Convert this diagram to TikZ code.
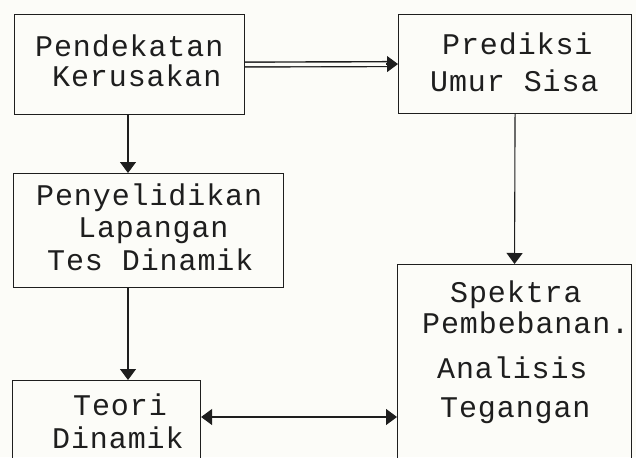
\documentclass[tikz,border=0pt]{standalone}
\usepackage{fontspec}
\usetikzlibrary{arrows.meta}
\newfontfamily\plotfont{Liberation Mono}[LetterSpace=3]
\definecolor{ink}{HTML}{1E1E1E}
\definecolor{paper}{HTML}{FCFCF8}
\begin{document}
\begin{tikzpicture}[x=1pt,y=-1pt,
  box/.style={draw=ink,line width=1.1pt,rectangle,inner sep=0pt,anchor=north west},
  lbl/.style={anchor=base west,inner sep=0pt,text=ink,font=\plotfont\fontsize{30}{34}\selectfont},
  flow/.style={draw=ink,line width=1.1pt,-{Triangle[length=11pt,width=16pt]}},
  twoway/.style={draw=ink,line width=1.1pt,{Triangle[length=11pt,width=16pt]}-{Triangle[length=11pt,width=16pt]}}]
\fill[paper] (0,0) rectangle (636,457);
\useasboundingbox (0,0) rectangle (636,457);
\begin{scope}
\clip (0,0) rectangle (636,457);
% boxes
\node[box,minimum width=230pt,minimum height=100pt] (pk) at (14,14) {};
\node[box,minimum width=233pt,minimum height=99pt] (pu) at (398,14) {};
\node[box,minimum width=270pt,minimum height=114pt] (pl) at (13,173) {};
\node[box,minimum width=188pt,minimum height=110pt] (td) at (12,380) {};
\node[box,minimum width=234pt,minimum height=220pt] (sp) at (397,264) {};
% labels
\node[lbl] (t1) at (35,57) {Pendekatan};
\node[lbl] (t2) at (52,87) {Kerusakan};
\node[lbl] (t3) at (442,55) {Prediksi};
\node[lbl] (t4) at (430,92) {Umur Sisa};
\node[lbl] (t5) at (36,205) {Penyelidikan};
\node[lbl] (t6) at (78,237) {Lapangan};
\node[lbl] (t7) at (47,270) {Tes Dinamik};
\node[lbl] (t8) at (73,415) {Teori};
\node[lbl] (t9) at (52,448) {Dinamik};
\node[lbl] (t10) at (450,302) {Spektra};
\node[lbl] (t11) at (422,333) {Pembebanan.};
\node[lbl] (t12) at (437,378) {Analisis};
\node[lbl] (t13) at (440,417) {Tegangan};
% connectors
\coordinate (leftcol) at (128,0);
\coordinate (row) at (0,417);
\draw[draw=ink,line width=1.4pt,double=paper,double distance=3.4pt,shorten >=10pt] (pk.east) -- (pu.west);
\draw[flow] ([xshift=-12pt]pu.west) -- (pu.west);
\draw[flow] (leftcol |- pk.south) -- (leftcol |- pl.north);
\draw[flow] (leftcol |- pl.south) -- (leftcol |- td.north);
\draw[flow] (pu.south) -- (sp.north);
\draw[twoway] (td.east |- row) -- (sp.west |- row);
\end{scope}
\end{tikzpicture}
\end{document}
